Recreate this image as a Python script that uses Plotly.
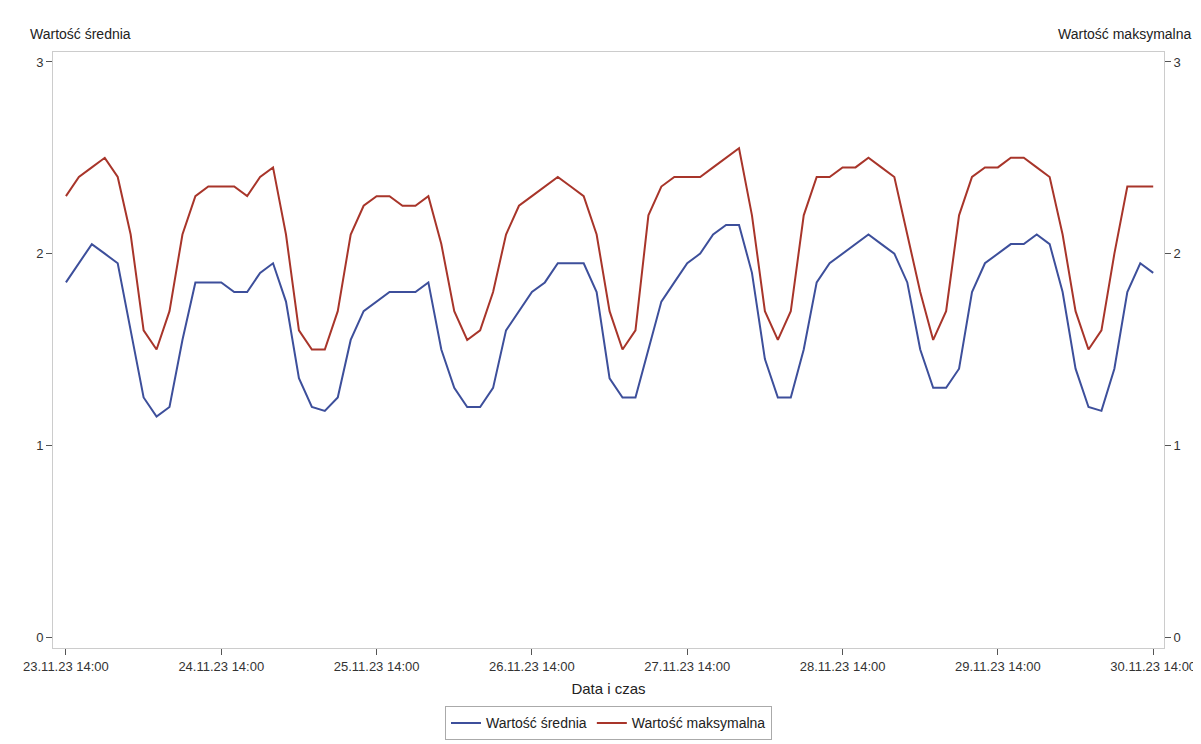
import pandas as pd
import plotly.graph_objects as go

# values every 2 hours from 23.11.23 14:00 to 30.11.23 14:00
mean_vals = [
    1.85, 1.95, 2.05, 2.00, 1.95, 1.60, 1.25, 1.15, 1.20, 1.55, 1.85, 1.85,
    1.85, 1.80, 1.80, 1.90, 1.95, 1.75, 1.35, 1.20, 1.18, 1.25, 1.55, 1.70,
    1.75, 1.80, 1.80, 1.80, 1.85, 1.50, 1.30, 1.20, 1.20, 1.30, 1.60, 1.70,
    1.80, 1.85, 1.95, 1.95, 1.95, 1.80, 1.35, 1.25, 1.25, 1.50, 1.75, 1.85,
    1.95, 2.00, 2.10, 2.15, 2.15, 1.90, 1.45, 1.25, 1.25, 1.50, 1.85, 1.95,
    2.00, 2.05, 2.10, 2.05, 2.00, 1.85, 1.50, 1.30, 1.30, 1.40, 1.80, 1.95,
    2.00, 2.05, 2.05, 2.10, 2.05, 1.80, 1.40, 1.20, 1.18, 1.40, 1.80, 1.95,
    1.90,
]
max_vals = [
    2.30, 2.40, 2.45, 2.50, 2.40, 2.10, 1.60, 1.50, 1.70, 2.10, 2.30, 2.35,
    2.35, 2.35, 2.30, 2.40, 2.45, 2.10, 1.60, 1.50, 1.50, 1.70, 2.10, 2.25,
    2.30, 2.30, 2.25, 2.25, 2.30, 2.05, 1.70, 1.55, 1.60, 1.80, 2.10, 2.25,
    2.30, 2.35, 2.40, 2.35, 2.30, 2.10, 1.70, 1.50, 1.60, 2.20, 2.35, 2.40,
    2.40, 2.40, 2.45, 2.50, 2.55, 2.20, 1.70, 1.55, 1.70, 2.20, 2.40, 2.40,
    2.45, 2.45, 2.50, 2.45, 2.40, 2.10, 1.80, 1.55, 1.70, 2.20, 2.40, 2.45,
    2.45, 2.50, 2.50, 2.45, 2.40, 2.10, 1.70, 1.50, 1.60, 2.00, 2.35, 2.35,
    2.35,
]
times = pd.date_range("2023-11-23 14:00", periods=len(mean_vals), freq="2h")
tick_vals = pd.date_range("2023-11-23 14:00", periods=8, freq="1D")
tick_text = [t.strftime("%d.%m.%y %H:%M") for t in tick_vals]

fig = go.Figure()
fig.add_trace(go.Scatter(x=times, y=mean_vals, mode="lines", name="Wartość średnia",
                         line=dict(color="#3d4f9b", width=2)))
fig.add_trace(go.Scatter(x=times, y=max_vals, mode="lines", name="Wartość maksymalna",
                         line=dict(color="#a8352a", width=2), yaxis="y2"))

axis_common = dict(range=[-0.057, 3.052], tickvals=[0, 1, 2, 3], ticks="outside",
                   ticklen=6, tickcolor="#555", showgrid=False, zeroline=False,
                   tickfont=dict(size=13, color="#333"))
fig.update_layout(
    width=1201, height=744, paper_bgcolor="white", plot_bgcolor="white",
    font=dict(family="Liberation Sans, Arial", color="#222"),
    margin=dict(l=45, r=45, t=44, b=104, autoexpand=False),
    xaxis=dict(range=[pd.Timestamp("2023-11-23 12:00"), pd.Timestamp("2023-11-30 15:40")],
               tickvals=tick_vals, ticktext=tick_text, ticks="outside", ticklen=6,
               tickcolor="#555", showgrid=False, zeroline=False, showline=True,
               linecolor="#ccc", mirror=True, tickfont=dict(size=13, color="#333"),
               title=dict(text="Data i czas", font=dict(size=15), standoff=10)),
    yaxis=dict(**axis_common, showline=True, linecolor="#ccc"),
    yaxis2=dict(**axis_common, overlaying="y", side="right", showline=True, linecolor="#ccc"),
    legend=dict(orientation="h", x=0.5, xanchor="center", y=-0.098, yanchor="top",
                bordercolor="#aaa", borderwidth=1, font=dict(size=14)),
    annotations=[
        dict(text="Wartość średnia", x=0, xref="paper", xanchor="left", xshift=-25,
             y=1, yref="paper", yanchor="bottom", yshift=8, showarrow=False, font=dict(size=14)),
        dict(text="Wartość maksymalna", x=1, xref="paper", xanchor="right", xshift=30,
             y=1, yref="paper", yanchor="bottom", yshift=8, showarrow=False, font=dict(size=14)),
    ],
)
fig.write_html("out.html")
